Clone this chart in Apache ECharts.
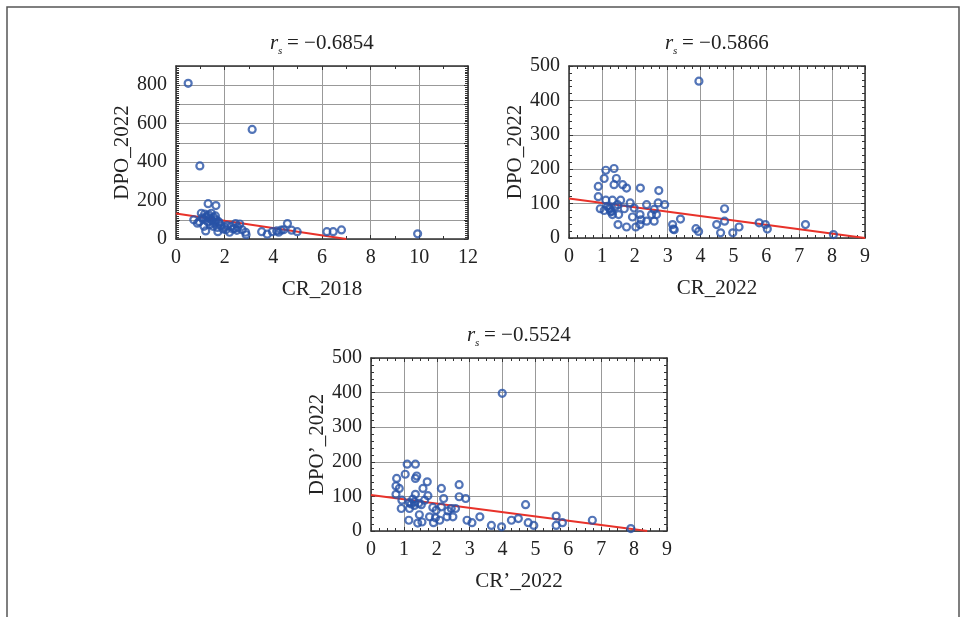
<!DOCTYPE html>
<html>
<head>
<meta charset="utf-8">
<script src="https://cdn.jsdelivr.net/npm/echarts@6/dist/echarts.min.js"></script>
<style>
  html, body { margin: 0; padding: 0; background: #fff; }
  #chart { width: 963px; height: 617px; }
</style>
</head>
<body>
<div id="chart"></div>
<script>
// Panel 1: CR_2018 vs DPO_2022
const cr2018 = [0.50, 0.98, 3.13, 1.32, 1.64, 0.73, 0.88, 0.95, 1.04, 1.08, 1.12, 1.15, 1.22, 1.25, 1.30, 1.35, 1.40, 1.45, 1.48, 1.52, 1.55, 1.58, 1.62, 1.65, 1.70, 1.72, 1.75, 1.78, 1.85, 1.93, 2.05, 2.10, 2.20, 2.26, 2.34, 2.45, 2.50, 2.54, 2.62, 2.72, 2.86, 2.88, 3.52, 3.75, 3.96, 4.14, 4.22, 4.32, 4.42, 4.58, 4.75, 4.98, 6.20, 6.46, 6.80, 9.93, 1.18, 1.28, 1.42, 1.60, 2.00, 2.40];
const dpo2022a = [810, 380, 570, 184, 174, 100, 82, 90, 134, 110, 104, 66, 42, 112, 90, 126, 75, 134, 95, 66, 112, 80, 120, 100, 60, 38, 90, 83, 70, 52, 48, 70, 35, 66, 52, 80, 45, 60, 78, 48, 35, 22, 38, 25, 38, 42, 35, 46, 48, 80, 46, 38, 38, 38, 47, 27, 130, 120, 105, 88, 62, 55];

// Panel 2: CR_2022 vs DPO_2022
const cr2022 = [3.95, 1.12, 1.37, 1.07, 0.89, 1.44, 1.37, 1.63, 1.75, 2.17, 2.73, 0.89, 1.12, 1.32, 1.57, 1.86, 2.36, 2.71, 2.91, 0.95, 1.07, 1.22, 1.27, 1.32, 1.48, 1.51, 1.68, 1.98, 1.93, 2.16, 2.19, 2.03, 2.16, 2.36, 2.51, 2.59, 2.66, 2.59, 1.49, 1.75, 3.15, 3.17, 3.20, 3.39, 3.86, 3.94, 4.49, 4.61, 4.73, 4.73, 4.98, 5.17, 5.78, 5.97, 6.03, 7.19, 8.04, 1.17, 1.25, 1.40, 1.30];
const dpo2022b = [456, 197, 202, 173, 150, 173, 155, 155, 145, 145, 138, 120, 110, 110, 110, 102, 97, 102, 97, 85, 80, 87, 76, 68, 97, 68, 85, 87, 61, 68, 53, 32, 39, 49, 68, 83, 68, 49, 39, 32, 39, 26, 24, 55, 27, 19, 39, 15, 85, 49, 15, 32, 44, 39, 26, 39, 10, 92, 84, 90, 78];

// Panel 3: CR'_2022 vs DPO'_2022
const crp2022 = [3.99, 1.10, 1.35, 1.04, 0.78, 0.76, 0.86, 1.35, 1.39, 1.71, 1.58, 2.14, 2.68, 0.76, 0.94, 0.92, 1.17, 1.27, 1.32, 1.35, 1.32, 1.17, 1.53, 1.63, 1.73, 1.88, 1.98, 2.21, 2.14, 2.34, 2.44, 2.57, 2.31, 2.49, 2.68, 2.88, 1.15, 1.42, 1.47, 1.55, 1.78, 1.90, 1.96, 2.09, 2.92, 3.07, 3.31, 3.66, 3.97, 4.27, 4.48, 4.70, 4.78, 4.95, 5.63, 5.63, 5.82, 6.73, 7.90, 1.22, 1.45];
const dpop2022 = [398, 193, 193, 164, 152, 130, 123, 152, 159, 142, 123, 123, 134, 106, 89, 65, 65, 92, 84, 106, 74, 82, 76, 89, 102, 68, 60, 94, 70, 58, 65, 65, 41, 41, 99, 94, 31, 23, 47, 26, 41, 24, 38, 31, 31, 24, 41, 16, 12, 31, 36, 76, 24, 16, 43, 16, 24, 31, 7, 78, 80];

// Fitted trend lines (start and end points)
const fit1 = [[0, 133], [7.0, 0]];
const fit2 = [[0, 115], [9.0, 0]];
const fit3 = [[0, 104], [8.4, 0]];

// Correlation coefficients shown above each panel
const rsValues = ['−0.6854', '−0.5866', '−0.5524'];
const xNames = ['CR_2018', 'CR_2022', 'CR’_2022'];
const yNames = ['DPO_2022', 'DPO_2022', 'DPO’_2022'];

const pairs = (xs, ys) => xs.map((x, i) => [x, ys[i]]);

const FONT = '"Liberation Serif", "DejaVu Serif", serif';
const BLUE = '#2853a6';
const RED = '#e8322a';
const GRIDC = '#999999';
const FRAME = '#333';

const grids = [
  { left: 176, top: 66, width: 292, height: 173 },
  { left: 569, top: 66, width: 296, height: 172 },
  { left: 371, top: 358, width: 296, height: 173 }
];

const axisCfg = [
  { xmax: 12, xint: 2, xminor: 2, ymax: 900, yint: 100, yminor: 10, yLabelStep: 200 },
  { xmax: 9, xint: 1, xminor: 4, ymax: 500, yint: 100, yminor: 5, yLabelStep: 100 },
  { xmax: 9, xint: 1, xminor: 4, ymax: 500, yint: 100, yminor: 5, yLabelStep: 100 }
];

const xAxes = [], yAxes = [];
axisCfg.forEach((c, g) => {
  const lineStyle = { color: FRAME, width: 1.5 };
  xAxes.push({
    type: 'value', gridIndex: g, min: 0, max: c.xmax, interval: c.xint, position: 'bottom',
    name: xNames[g], nameLocation: 'middle', nameGap: 40,
    nameTextStyle: { fontFamily: FONT, fontSize: 21, color: '#222' },
    axisLine: { show: true, onZero: false, lineStyle },
    axisTick: { show: true, inside: true, length: 4, lineStyle: { color: FRAME } },
    minorTick: { show: true, splitNumber: c.xminor, length: 3, lineStyle: { color: FRAME } },
    axisLabel: { fontFamily: FONT, fontSize: 20, color: '#222', margin: 9 },
    splitLine: { show: true, lineStyle: { color: GRIDC, width: 1 } }
  });
  xAxes.push({
    type: 'value', gridIndex: g, min: 0, max: c.xmax, interval: c.xint, position: 'top',
    axisLine: { show: true, onZero: false, lineStyle },
    axisTick: { show: true, inside: true, length: 4, lineStyle: { color: FRAME } },
    minorTick: { show: true, splitNumber: c.xminor, length: 3, lineStyle: { color: FRAME } },
    axisLabel: { show: false }, splitLine: { show: false }
  });
  yAxes.push({
    type: 'value', gridIndex: g, min: 0, max: c.ymax, interval: c.yint, position: 'left',
    name: yNames[g], nameLocation: 'middle', nameGap: 43, nameRotate: 90,
    nameTextStyle: { fontFamily: FONT, fontSize: 21, color: '#222' },
    axisLine: { show: true, onZero: false, lineStyle },
    axisTick: { show: true, inside: true, length: 4, lineStyle: { color: FRAME } },
    minorTick: { show: true, splitNumber: c.yminor, length: 3, lineStyle: { color: FRAME } },
    axisLabel: {
      fontFamily: FONT, fontSize: 20, color: '#222', margin: 9,
      formatter: v => (v % c.yLabelStep === 0 ? String(v) : '')
    },
    splitLine: { show: true, lineStyle: { color: GRIDC, width: 1 } }
  });
  yAxes.push({
    type: 'value', gridIndex: g, min: 0, max: c.ymax, interval: c.yint, position: 'right',
    axisLine: { show: true, onZero: false, lineStyle },
    axisTick: { show: true, inside: true, length: 4, lineStyle: { color: FRAME } },
    minorTick: { show: true, splitNumber: c.yminor, length: 3, lineStyle: { color: FRAME } },
    axisLabel: { show: false }, splitLine: { show: false }
  });
});

const scatterData = [pairs(cr2018, dpo2022a), pairs(cr2022, dpo2022b), pairs(crp2022, dpop2022)];
const fits = [fit1, fit2, fit3];

const series = [];
[0, 1, 2].forEach(g => {
  series.push({
    type: 'line', xAxisIndex: g * 2, yAxisIndex: g * 2, data: fits[g],
    symbol: 'none', silent: true, z: 2,
    lineStyle: { color: RED, width: 2 }
  });
  series.push({
    type: 'scatter', xAxisIndex: g * 2, yAxisIndex: g * 2, data: scatterData[g],
    symbol: 'circle', symbolSize: 7, z: 3,
    itemStyle: { color: 'rgba(255,255,255,0)', borderColor: BLUE, borderWidth: 2.2 }
  });
});

// Title "r_s = value" centred over each panel
function rsTitle(cx, y, value) {
  return {
    type: 'group', left: cx - 52, top: y,
    children: [
      { type: 'text', x: 0, y: 0, style: { text: 'r', font: 'italic 21px ' + FONT, fill: '#222' } },
      { type: 'text', x: 8, y: 13, style: { text: 's', font: 'italic 11px ' + FONT, fill: '#222' } },
      { type: 'text', x: 17, y: 0, style: { text: '= ' + value, font: '21px ' + FONT, fill: '#222' } }
    ]
  };
}

const graphic = [
  { type: 'rect', shape: { x: 7, y: 7, width: 952, height: 640 },
    style: { fill: 'none', stroke: '#555', lineWidth: 1.5 }, silent: true },
  rsTitle(322, 33, rsValues[0]),
  rsTitle(717, 33, rsValues[1]),
  rsTitle(519, 325, rsValues[2])
];

const chart = echarts.init(document.getElementById('chart'), null, { renderer: 'canvas' });
chart.setOption({
  animation: false,
  backgroundColor: '#fff',
  grid: grids,
  xAxis: xAxes,
  yAxis: yAxes,
  series,
  graphic
});
</script>
</body>
</html>
